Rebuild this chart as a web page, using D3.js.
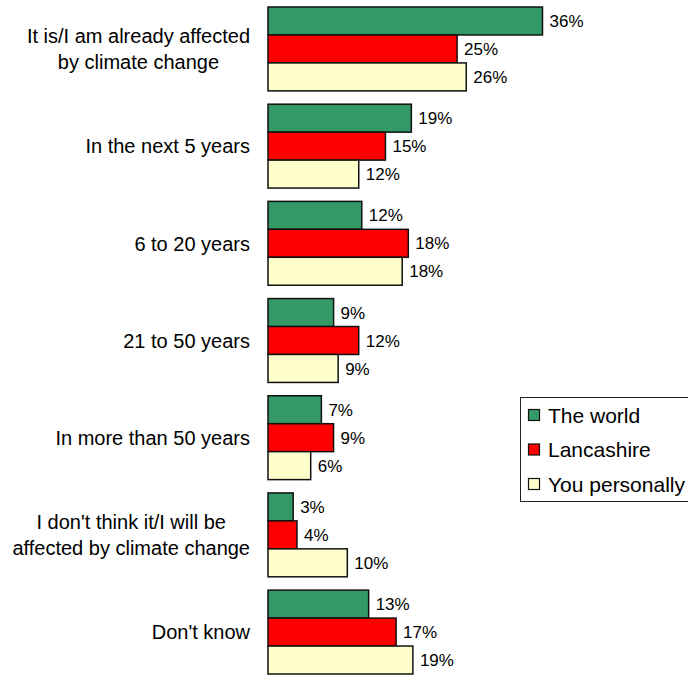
<!DOCTYPE html>
<html>
<head>
<meta charset="utf-8">
<script src="https://cdn.jsdelivr.net/npm/d3@7"></script>
<style>
	body { margin: 0; background: #fff; }
	svg { display: block; font-family: "Liberation Sans", Arial, sans-serif; }
</style>
</head>
<body>
<svg id="chart"></svg>
<script>
var categories = [
	["It is/I am already affected", "by climate change"],
	["In the next 5 years"],
	["6 to 20 years"],
	["21 to 50 years"],
	["In more than 50 years"],
	["I don't think it/I will be", "affected by climate change"],
	["Don't know"]
];
var seriesNames = ["The world", "Lancashire", "You personally"];
var world = [36, 18.8, 12.3, 8.6, 7, 3.3, 13.2];
var lancashire = [24.8, 15.4, 18.4, 11.9, 8.6, 3.8, 16.8];
var personally = [26, 11.9, 17.6, 9.2, 5.6, 10.4, 19];
var colors = ["#339966", "#ff0000", "#ffffcc"];

(function(){
	var w = 688, h = 675;
	var series = [world, lancashire, personally];

	var svg = d3.select("#chart")
		.attr("width", w)
		.attr("height", h);

	var x = d3.scaleLinear()
		.domain([0, 40])
		.range([268, 573]);

	var y = d3.scaleBand()
		.domain(d3.range(categories.length))
		.range([7, 674])
		.paddingInner(0.137);

	var yInner = d3.scaleBand()
		.domain(d3.range(series.length))
		.range([0, y.bandwidth()]);

	var fmt = function(v){ return Math.round(v) + "%"; };

	var groups = svg.append("g").attr("class", "groups")
		.selectAll("g.group")
		.data(categories)
		.enter().append("g")
			.attr("class", "group")
			.attr("transform", function(d, i){ return "translate(0," + y(i) + ")"; });

	// bars
	groups.selectAll("rect")
		.data(function(d, i){ return series.map(function(s, j){ return {s: j, v: s[i]}; }); })
		.enter().append("rect")
			.attr("x", x(0))
			.attr("y", function(d){ return yInner(d.s); })
			.attr("width", function(d){ return x(d.v) - x(0); })
			.attr("height", yInner.bandwidth())
			.attr("fill", function(d){ return colors[d.s]; })
			.attr("stroke", "#111")
			.attr("stroke-width", 1.5);

	// value labels
	groups.selectAll("text.value")
		.data(function(d, i){ return series.map(function(s, j){ return {s: j, v: s[i]}; }); })
		.enter().append("text")
			.attr("class", "value")
			.attr("x", function(d){ return x(d.v) + 7; })
			.attr("y", function(d){ return yInner(d.s) + yInner.bandwidth() / 2; })
			.attr("dy", "0.36em")
			.style("font-size", "17px")
			.attr("fill", "#000")
			.text(function(d){ return fmt(d.v); });

	// category labels, lines centred in a block that ends at the axis
	var labelRight = 250;
	var lineGap = 26;
	groups.each(function(lines){
		var g = d3.select(this);
		var t = g.append("text")
			.attr("class", "cat")
			.style("font-size", "20px")
			.attr("text-anchor", "middle")
			.attr("fill", "#000");
		var spans = t.selectAll("tspan")
			.data(lines)
			.enter().append("tspan")
				.attr("y", function(d, k){ return y.bandwidth() / 2 + (k - (lines.length - 1) / 2) * lineGap; })
				.attr("dy", "0.36em")
				.text(function(d){ return d; });
		var maxW = 0;
		spans.each(function(){ maxW = Math.max(maxW, this.getComputedTextLength()); });
		spans.attr("x", labelRight - maxW / 2);
	});

	// legend (box runs off the right edge, as in the original)
	var legend = svg.append("g").attr("class", "legend");
	legend.append("rect")
		.attr("x", 520.5)
		.attr("y", 397.5)
		.attr("width", 200)
		.attr("height", 104)
		.attr("fill", "#fff")
		.attr("stroke", "#222")
		.attr("stroke-width", 1);

	var ly = d3.scalePoint()
		.domain(d3.range(seriesNames.length))
		.range([415, 484]);

	var items = legend.selectAll("g.item")
		.data(seriesNames)
		.enter().append("g")
			.attr("class", "item")
			.attr("transform", function(d, i){ return "translate(0," + ly(i) + ")"; });
	items.append("rect")
		.attr("x", 528.5)
		.attr("y", -5.5)
		.attr("width", 11)
		.attr("height", 11)
		.attr("fill", function(d, i){ return colors[i]; })
		.attr("stroke", "#111")
		.attr("stroke-width", 1.2);
	items.append("text")
		.attr("x", 548)
		.attr("dy", "0.36em")
		.style("font-size", "21px")
		.attr("fill", "#000")
		.text(function(d){ return d; });
})();
</script>
</body>
</html>
